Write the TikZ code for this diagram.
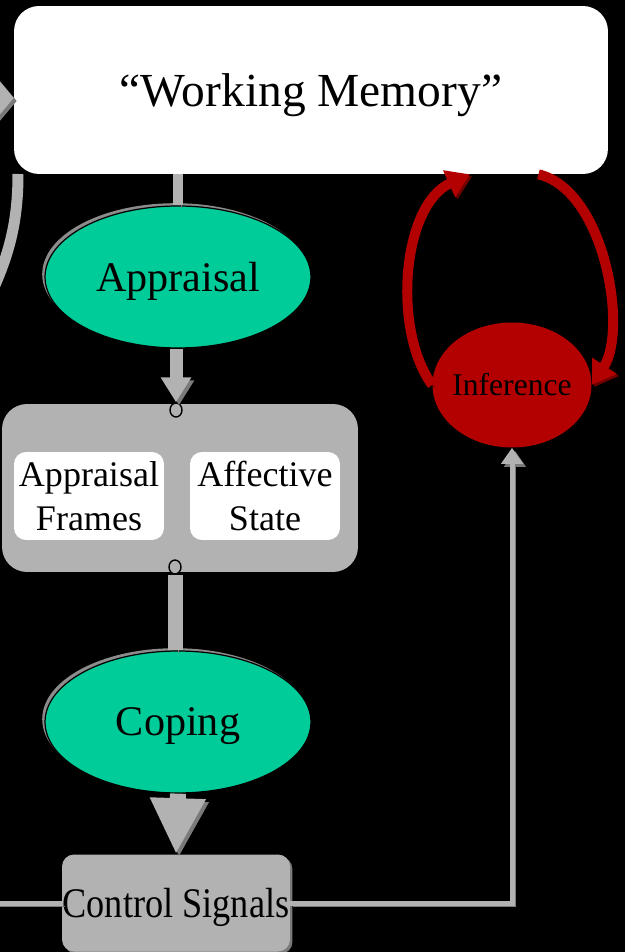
\documentclass[tikz,border=0pt]{standalone}
\usepackage{fontspec}
\setmainfont{Liberation Serif}
\usetikzlibrary{arrows.meta, positioning, shapes.geometric, shadows, calc}

\definecolor{appgreen}{HTML}{00CC99}
\definecolor{panelgray}{HTML}{B2B2B2}
\definecolor{edgegray}{HTML}{7A7A7A}
\definecolor{infred}{HTML}{B30000}
\definecolor{infdark}{HTML}{700000}

\begin{document}
\begin{tikzpicture}[x=0.02cm, y=-0.02cm,
    bar/.style={draw=panelgray, line width=#1, preaction={draw=edgegray, transform canvas={xshift=1.7pt, yshift=-1.7pt}}},
    redarrow/.style={draw=infred, line width=0.2cm, -{Triangle[length=0.46cm, width=0.56cm]}, preaction={draw=infdark, transform canvas={xshift=1.2pt, yshift=-1.2pt}}},
    oval/.style={ellipse, draw=black, line width=0.7pt, fill=appgreen, minimum width=5.32cm, minimum height=2.84cm, inner sep=0pt, text depth=0pt, font=\fontsize{24}{28}\selectfont, drop shadow={shadow xshift=-1.6pt, shadow yshift=1.6pt, fill=gray!90, opacity=1}},
    card/.style={rounded corners=0.24cm, fill=white, minimum width=3cm, minimum height=1.76cm, align=center, inner sep=0pt, font=\fontsize{20.5}{25}\selectfont},
    port/.style={ellipse, draw=black, line width=0.8pt, fill=panelgray, inner sep=0pt, minimum width=0.24cm, minimum height=0.28cm}]
    \path [fill=black, use as bounding box] (0,0) rectangle (625,952);
    \node (wm) [rounded corners=0.5cm, fill=white, minimum width=11.88cm, minimum height=3.36cm, text depth=0pt, font=\fontsize{27}{32}\selectfont] at (311,90) {“Working Memory”};
    \node (appr) [oval] at (178,277) {Appraisal};
    \node (frames) [rounded corners=0.5cm, fill=panelgray, minimum width=7.12cm, minimum height=3.36cm] at (180,488) {};
    \node (apframes) [card] at (89,496) {Appraisal\\Frames};
    \node (affstate) [card] at (265,496) {Affective\\State};
    \node (porttop) [port] at (176,410) {};
    \node (portbot) [port] at (175,567) {};
    \node (cope) [oval] at (178,722) {Coping};
    \node (ctrl) [rounded corners=0.24cm, fill=panelgray, minimum width=4.56cm, minimum height=1.94cm, inner sep=0pt, text depth=0pt, font=\fontsize{24}{28}\selectfont, drop shadow={shadow xshift=1.4pt, shadow yshift=-1.4pt, fill=edgegray, opacity=1}] at (176,903) {\scalebox{0.86}[1]{Control Signals}};
    \node (infer) [ellipse, fill=infred, minimum width=3.18cm, minimum height=2.5cm, inner xsep=-2pt, inner ysep=0pt, font=\fontsize{18}{20}\selectfont] at (512,385) {Inference};
    \coordinate (offin) at (-60,98);
    \coordinate (arcin) at (18,174);
    \coordinate (arcout) at (-12,300);
    \coordinate (offleft) at (-20,903);
    \draw [bar=0.24cm, -{Triangle[length=0.5cm, width=1.16cm]}] (offin) -- (offin -| wm.west);
    \draw [bar=0.22cm] (arcin) .. controls (18,220) and (10,255) .. (arcout);
    \draw [bar=0.2cm] (wm.south -| appr.north) -- (appr.north);
    \draw [bar=0.26cm, -{Triangle[length=0.5cm, width=0.58cm]}] (appr.south -| porttop.north) -- (porttop.north);
    \draw [bar=0.3cm] (portbot.south) -- (portbot.south |- cope.north);
    \draw [bar=0.32cm, -{Triangle[length=1.12cm, width=1.04cm]}] (cope.south) -- (ctrl.north);
    \draw [bar=0.1cm] (offleft) -- (ctrl.west);
    \draw [bar=0.1cm, -{Triangle[length=0.32cm, width=0.42cm]}] (ctrl.east) -| (infer.south);
    \draw [redarrow] (infer.west) .. controls (392,330) and (402,205) .. ($(wm.south)!0.535!(wm.south east)$);
    \draw [redarrow] ($(wm.south)!0.765!(wm.south east)$) .. controls (605,190) and (628,330) .. (infer.east);
\end{tikzpicture}
\end{document}
